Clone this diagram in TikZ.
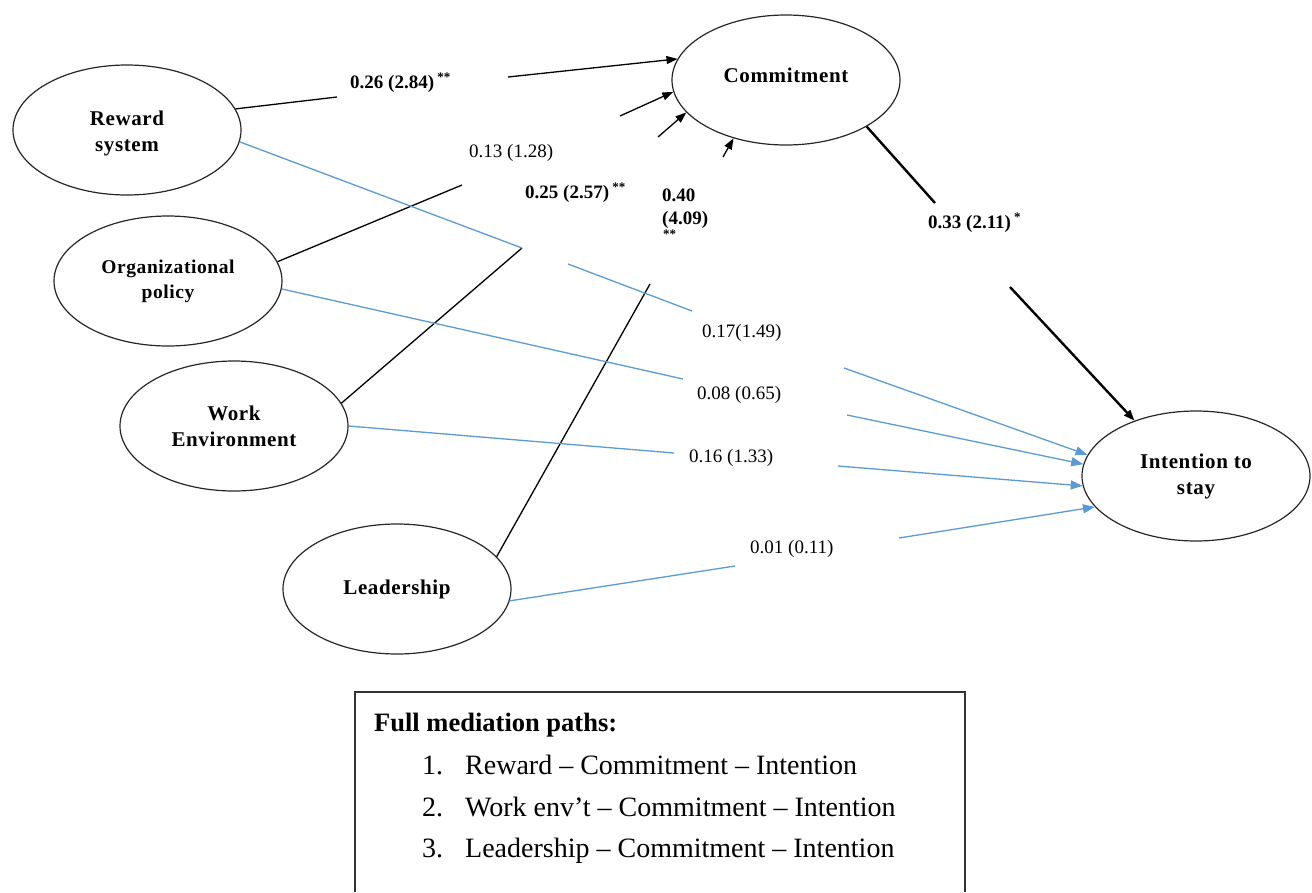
\documentclass[tikz,border=0pt]{standalone}
\usepackage{fontspec}
\setmainfont{Liberation Serif}
\newfontfamily\spacedfont[LetterSpace=3]{Liberation Serif}
\usetikzlibrary{shapes.geometric,arrows.meta}
\definecolor{pathblue}{HTML}{5B9BD5}
\newcommand{\stars}[1]{\,\raisebox{7pt}{\fontsize{13}{13}\selectfont #1}}
\begin{document}
\begin{tikzpicture}[x=1pt,y=-1pt,
  construct/.style={ellipse,draw=black!85,line width=1.2pt,minimum width=228pt,minimum height=130pt,inner sep=0pt,align=center,font=\spacedfont\bfseries\fontsize{21}{26}\selectfont},
  blk/.style={draw=black,line width=1.3pt},
  blkarrow/.style={blk,-{Triangle[length=11pt,width=8pt]}},
  blu/.style={draw=pathblue,line width=1.3pt},
  bluarrow/.style={blu,-{Triangle[length=12pt,width=9pt]}},
  coef/.style={anchor=base west,inner sep=0pt,font=\fontsize{19}{23}\selectfont},
  coefb/.style={anchor=base west,inner sep=0pt,font=\bfseries\fontsize{19}{23}\selectfont},
  boxtext/.style={anchor=base west,inner sep=0pt,font=\fontsize{28}{30}\selectfont}]
\useasboundingbox (0,0) rectangle (1312,892);

% constructs
\node[construct,text height=48pt] (reward) at (127,130) {Reward\\system};
\node[construct,font=\spacedfont\bfseries\fontsize{19.5}{25}\selectfont] (org) at (168,281) {Organizational\\policy};
\node[construct] (work) at (234,426) {Work\\Environment};
\node[construct] (lead) at (397,589) {Leadership};
\node[construct,text depth=10pt] (commit) at (786,80) {Commitment};
\node[construct] (intent) at (1196,476) {Intention to\\stay};

% free ends of broken connectors
\coordinate (r1a) at (337,97);  \coordinate (r1b) at (508,77);
\coordinate (o1a) at (462,185); \coordinate (o1b) at (620,116);
\coordinate (w1a) at (522,248); \coordinate (w1b) at (658,137);
\coordinate (l1a) at (650,284); \coordinate (l1b) at (723,157);
\coordinate (ci1) at (935,203); \coordinate (ci2) at (1010,287);
\coordinate (rb1) at (522,248); \coordinate (rb2) at (568,264);
\coordinate (rb3) at (692,311); \coordinate (rb4) at (844,368);
\coordinate (ob1) at (683,379); \coordinate (ob2) at (847,415);
\coordinate (wb1) at (674,453); \coordinate (wb2) at (838,466);
\coordinate (lb1) at (735,566); \coordinate (lb2) at (899,538);

% black paths to commitment
\draw[blk] (reward.11) -- (r1a);
\draw[blkarrow] (r1b) -- (commit.169.7);
\draw[blk] (org.10.5) -- (o1a);
\draw[blkarrow] (o1b) -- (commit.186.5);
\draw[blk] (work.12.7) -- (w1a);
\draw[blkarrow] (w1b) -- (commit.198.3);
\draw[blk] (lead.18.5) -- (l1a);
\draw[blkarrow] (l1b) -- (commit.228.1);
\draw[blk,line width=2.4pt] (commit.-30.5) -- (ci1);
\draw[blkarrow,line width=2.4pt] (ci2) -- (intent.138.5);

% blue direct paths
\draw[blu] (reward.-6) -- (rb1);
\draw[blu] (rb2) -- (rb3);
\draw[bluarrow] (rb4) -- (intent.169.9);
\draw[blu] (org.-4.5) -- (ob1);
\draw[bluarrow] (ob2) -- (intent.174.9);
\draw[blu] (work.-0.5) -- (wb1);
\draw[bluarrow] (wb2) -- (intent.185);
\draw[blu] (lead.-6.6) -- (lb1);
\draw[bluarrow] (lb2) -- (intent.197.7);

% coefficients
\node[coefb] (k1) at (350,88) {0.26 (2.84)\stars{**}};
\node[coef]  (k2) at (469,157) {0.13 (1.28)};
\node[coefb] (k3) at (525,198) {0.25 (2.57)\stars{**}};
\node[coefb] (k4a) at (662,201) {0.40};
\node[coefb] (k4b) at (662,224) {(4.09)};
\node[coefb,font=\bfseries\fontsize{13}{13}\selectfont] (k4c) at (663,238) {**};
\node[coefb] (k5) at (928,228) {0.33 (2.11)\stars{*}};
\node[coef]  (k6) at (702,337) {0.17(1.49)};
\node[coef]  (k7) at (697,399) {0.08 (0.65)};
\node[coef]  (k8) at (689,462) {0.16 (1.33)};
\node[coef]  (k9) at (750,553) {0.01 (0.11)};

% legend box
\draw[line width=1.2pt,draw=black!80] (355,892) -- (355,692) -- (965,692) -- (965,892);
\node[boxtext,font=\bfseries\fontsize{26.5}{30}\selectfont] (bh) at (374,731) {Full mediation paths:};
\node[boxtext] (n1) at (422,774) {1.};
\node[boxtext] (t1) at (465,774) {Reward – Commitment – Intention};
\node[boxtext] (n2) at (422,816) {2.};
\node[boxtext] (t2) at (465,816) {Work env’t – Commitment – Intention};
\node[boxtext] (n3) at (422,857) {3.};
\node[boxtext] (t3) at (465,857) {Leadership – Commitment – Intention};
\end{tikzpicture}
\end{document}
